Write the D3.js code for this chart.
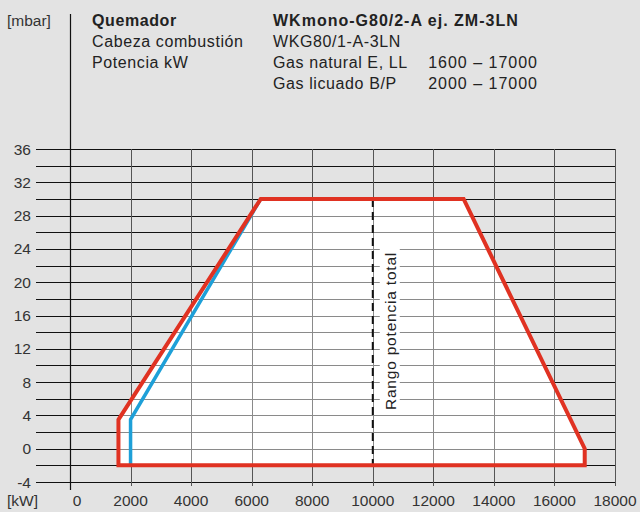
<!DOCTYPE html>
<html>
<head>
<meta charset="utf-8">
<script src="https://cdn.jsdelivr.net/npm/d3@7"></script>
<style>
  html, body { margin: 0; padding: 0; background: #e3e3e3; }
  svg { display: block; font-family: "Liberation Sans", Arial, sans-serif; }
</style>
</head>
<body>
<div id="chart"></div>
<script>
// data
const kwTicks = [0, 2000, 4000, 6000, 8000, 10000, 12000, 14000, 16000, 18000];
const mbarTicks = [-4, 0, 4, 8, 12, 16, 20, 24, 28, 32, 36];
const mbarGrid = d3.range(-4, 37, 2);

// natural gas working field (red outline)
const natKw = [1600, 1600, 6300, 13000, 17000, 17000];
const natMbar = [-2, 3.5, 30, 30, 0, -2];
// LPG left edge (blue)
const lpgKw = [2000, 2000, 6300];
const lpgMbar = [-2, 3.5, 30];

const totalRangeKw = 10000;
const rangeLabel = "Rango potencia total";

const headLeft = ["Quemador", "Cabeza combustión", "Potencia kW"];
const headRight = ["WKmono-G80/2-A ej. ZM-3LN", "WKG80/1-A-3LN", "Gas natural E, LL", "Gas licuado B/P"];
const headRanges = [null, null, "1600 – 17000", "2000 – 17000"];

const W = 640, H = 512;
const svg = d3.select("#chart").append("svg")
    .attr("width", W)
    .attr("height", H);

const x = d3.scaleLinear().domain([0, 18000]).range([70, 615]);
const y = d3.scaleLinear().domain([-4, 36]).range([482, 149]);

const natPts = natKw.map((k, i) => [k, natMbar[i]]);
const lpgPts = lpgKw.map((k, i) => [k, lpgMbar[i]]);
const line = d3.line().x(d => x(d[0])).y(d => y(d[1]));

// grid drawn twice: black on gray, lighter inside the white field
function drawGrid(g, hColor, vColor) {
    g.selectAll("line.h").data(mbarGrid).join("line")
        .attr("class", "h")
        .attr("x1", 36).attr("x2", x(18000))
        .attr("y1", d => Math.round(y(d)) + 0.5).attr("y2", d => Math.round(y(d)) + 0.5)
        .attr("stroke", hColor).attr("stroke-width", 1);
    g.selectAll("line.v").data(kwTicks.slice(1)).join("line")
        .attr("class", "v")
        .attr("x1", d => Math.round(x(d)) + 0.5).attr("x2", d => Math.round(x(d)) + 0.5)
        .attr("y1", y(36)).attr("y2", y(-4) + 4)
        .attr("stroke", vColor).attr("stroke-width", 1);
}

drawGrid(svg.append("g"), "#111", "#555");

svg.append("clipPath").attr("id", "field")
    .append("path").attr("d", line(natPts) + "Z");

svg.append("path")
    .attr("d", line(natPts) + "Z")
    .attr("fill", "#fff");

drawGrid(svg.append("g").attr("clip-path", "url(#field)"), "#8a8a8a", "#8a8a8a");

// vertical axis line
svg.append("line")
    .attr("x1", 70.5).attr("x2", 70.5)
    .attr("y1", 14).attr("y2", 490)
    .attr("stroke", "#111").attr("stroke-width", 1.2);

// dashed total range line
svg.append("line")
    .attr("x1", x(totalRangeKw)).attr("x2", x(totalRangeKw))
    .attr("y1", y(30)).attr("y2", y(-2))
    .attr("stroke", "#111").attr("stroke-width", 2)
    .attr("stroke-dasharray", "8,5");

// label with white backing
const lx = x(totalRangeKw) + 17, ly = 331;
svg.append("rect")
    .attr("x", lx - 10).attr("y", ly - 84)
    .attr("width", 20).attr("height", 168)
    .attr("fill", "#fff");
svg.append("text")
    .attr("transform", `translate(${lx + 6},${ly}) rotate(-90)`)
    .attr("text-anchor", "middle")
    .attr("font-size", 15.5)
    .attr("letter-spacing", 0.8)
    .attr("fill", "#222")
    .text(rangeLabel);

// curves
svg.append("path")
    .attr("d", line(lpgPts))
    .attr("fill", "none")
    .attr("stroke", "#1ea0d8")
    .attr("stroke-width", 3.5)
    .attr("stroke-linejoin", "miter");

svg.append("path")
    .attr("d", line(natPts) + "Z")
    .attr("fill", "none")
    .attr("stroke", "#e03222")
    .attr("stroke-width", 4)
    .attr("stroke-linejoin", "miter");

// axis labels
svg.append("g").selectAll("text").data(mbarTicks).join("text")
    .attr("x", 31).attr("y", d => y(d) + 5.5)
    .attr("text-anchor", "end")
    .attr("font-size", 15.5)
    .attr("fill", "#333")
    .text(d => d);

svg.append("g").selectAll("text").data(kwTicks).join("text")
    .attr("x", d => x(d) + (d === 0 ? 7 : 0)).attr("y", 506)
    .attr("text-anchor", "middle")
    .attr("font-size", 15.5)
    .attr("fill", "#333")
    .text(d => d);

svg.append("text").attr("x", 7).attr("y", 506)
    .attr("font-size", 15.5).attr("fill", "#333").text("[kW]");
svg.append("text").attr("x", 7).attr("y", 26)
    .attr("font-size", 15.5).attr("fill", "#333").text("[mbar]");

// header block
const head = svg.append("g").attr("font-size", 16).attr("fill", "#222")
    .attr("letter-spacing", 0.6);
head.selectAll("text.l").data(headLeft).join("text")
    .attr("class", "l")
    .attr("x", 92).attr("y", (d, i) => 26 + i * 21)
    .attr("font-weight", (d, i) => i === 0 ? "bold" : "normal")
    .text(d => d);
head.selectAll("text.r").data(headRight).join("text")
    .attr("class", "r")
    .attr("x", 273).attr("y", (d, i) => 26 + i * 21)
    .attr("font-weight", (d, i) => i === 0 ? "bold" : "normal")
    .attr("letter-spacing", (d, i) => i === 0 ? 1.0 : 0.6)
    .text(d => d);
head.selectAll("text.n").data(headRanges).join("text")
    .attr("class", "n")
    .attr("x", 538).attr("y", (d, i) => 26 + i * 21)
    .attr("text-anchor", "end")
    .attr("letter-spacing", 1)
    .text(d => d || "");
</script>
</body>
</html>
